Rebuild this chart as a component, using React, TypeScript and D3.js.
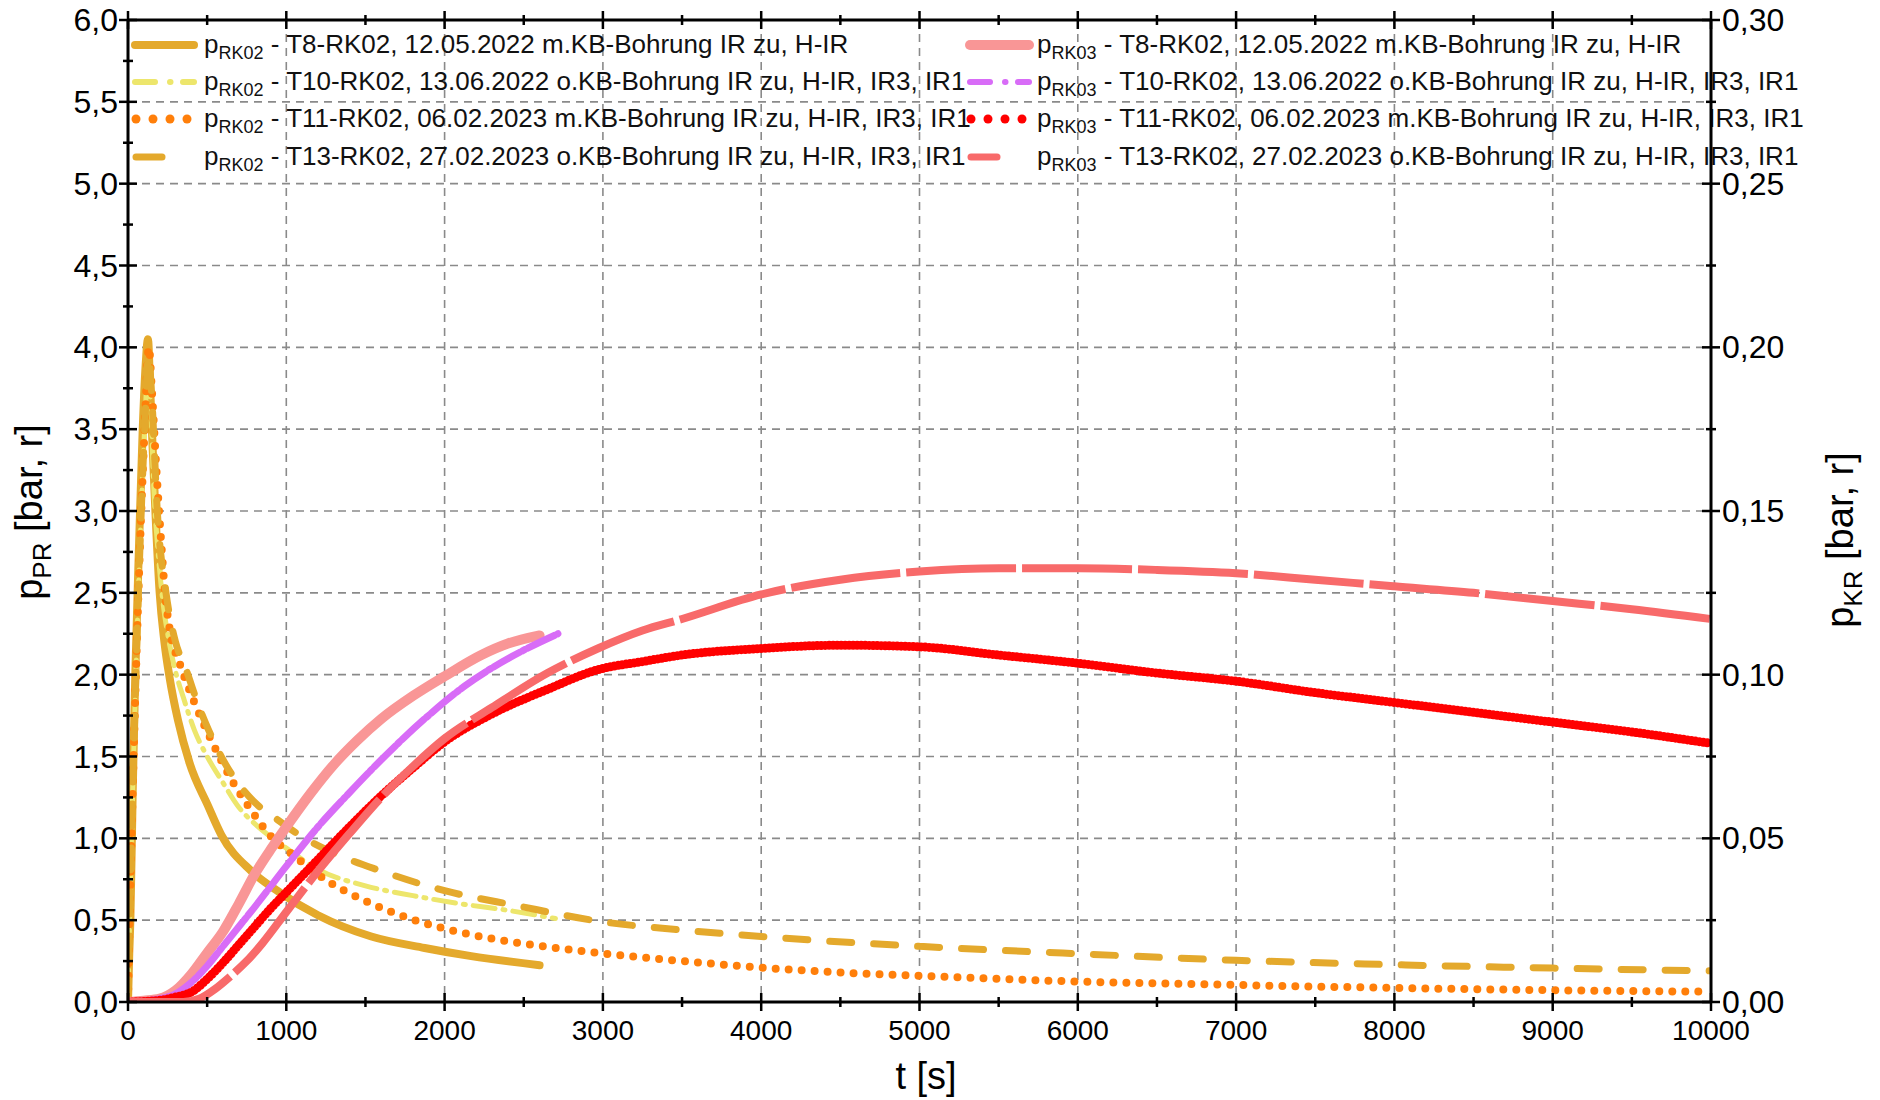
import React from 'react';
import * as d3 from 'd3';

// ---------- data (t in s, left series in bar, right series in bar) ----------
const t8rk02T = [0, 8, 15, 30, 46, 70, 93, 112, 126, 140, 155, 173, 200, 230, 263, 316, 389, 505, 590, 779, 958, 1200, 1537, 1874, 2168, 2600];
const t8rk02V = [0, 0.3, 0.5, 1.3, 2.0, 2.8, 3.5, 3.9, 4.05, 3.75, 3.4, 3.0, 2.5, 2.2, 1.98, 1.72, 1.46, 1.2, 1.02, 0.8, 0.67, 0.53, 0.4, 0.33, 0.28, 0.225];

const t10rk02T = [0, 10, 30, 50, 80, 105, 128, 145, 165, 190, 220, 260, 300, 350, 420, 500, 600, 700, 800, 900, 1000, 1200, 1500, 1800, 2100, 2400, 2700];
const t10rk02V = [0, 0.5, 1.3, 2.0, 2.9, 3.5, 3.9, 3.6, 3.1, 2.75, 2.45, 2.2, 2.02, 1.86, 1.66, 1.5, 1.34, 1.19, 1.09, 1.01, 0.94, 0.81, 0.71, 0.65, 0.6, 0.56, 0.51];

const t11rk02T = [0, 10, 30, 50, 80, 105, 132, 150, 179, 211, 232, 263, 326, 411, 526, 653, 779, 905, 1053, 1242, 1495, 1811, 2126, 2344, 2547, 2968, 3500, 4000, 4500, 5000, 6000, 7000, 8000, 9000, 10000];
const t11rk02V = [0, 0.5, 1.3, 2.0, 2.9, 3.5, 4.0, 3.75, 3.26, 2.79, 2.52, 2.28, 2.07, 1.85, 1.6, 1.36, 1.17, 1.01, 0.89, 0.75, 0.62, 0.5, 0.42, 0.38, 0.35, 0.3, 0.25, 0.21, 0.18, 0.16, 0.125, 0.104, 0.086, 0.072, 0.063];

const t13rk02T = [0, 10, 30, 50, 80, 105, 130, 150, 185, 240, 300, 360, 450, 510, 600, 700, 800, 950, 1100, 1300, 1600, 2000, 2450, 3000, 3500, 4000, 5000, 6000, 7000, 8000, 9000, 10000];
const t13rk02V = [0, 0.5, 1.3, 2.0, 2.9, 3.5, 3.95, 3.7, 3.0, 2.5, 2.2, 2.05, 1.8, 1.66, 1.48, 1.33, 1.22, 1.11, 1.01, 0.91, 0.8, 0.68, 0.59, 0.49, 0.44, 0.4, 0.34, 0.295, 0.255, 0.228, 0.207, 0.19];

const t8rk03T = [0, 100, 200, 300, 400, 500, 600, 700, 800, 900, 1000, 1150, 1300, 1450, 1600, 1800, 2000, 2232, 2400, 2600];
const t8rk03V = [0, 0.0004, 0.001, 0.0035, 0.0085, 0.015, 0.0215, 0.03, 0.039, 0.0465, 0.0535, 0.0635, 0.0725, 0.08, 0.0865, 0.0935, 0.0995, 0.106, 0.1095, 0.112];

const t10rk03T = [0, 200, 300, 400, 500, 600, 700, 800, 1000, 1200, 1400, 1600, 1874, 2126, 2442, 2716];
const t10rk03V = [0, 0.001, 0.0025, 0.006, 0.011, 0.017, 0.023, 0.029, 0.0415, 0.0535, 0.064, 0.074, 0.0865, 0.0965, 0.106, 0.1125];

const t11rk03T = [0, 200, 300, 400, 500, 600, 700, 800, 900, 1000, 1200, 1400, 1600, 1800, 2000, 2300, 2650, 2968, 3250, 3500, 4000, 4500, 5000, 5500, 6000, 6500, 7000, 7500, 8000, 8500, 9000, 9500, 10000];
const t11rk03V = [0, 0.0005, 0.0015, 0.003, 0.007, 0.012, 0.0175, 0.023, 0.0285, 0.0335, 0.0435, 0.0535, 0.063, 0.0715, 0.0795, 0.088, 0.0955, 0.1015, 0.104, 0.106, 0.108, 0.109, 0.1085, 0.106, 0.1035, 0.1005, 0.098, 0.0945, 0.0915, 0.0885, 0.0855, 0.0825, 0.079];

const t13rk03T = [0, 350, 450, 550, 650, 750, 850, 1000, 1200, 1400, 1600, 1800, 2000, 2300, 2650, 2968, 3250, 3500, 4000, 4500, 5000, 5500, 6000, 6500, 7000, 7500, 8000, 8500, 9000, 9500, 10000];
const t13rk03V = [0, 0, 0.001, 0.004, 0.008, 0.0125, 0.018, 0.0275, 0.04, 0.0515, 0.0625, 0.072, 0.0805, 0.09, 0.1005, 0.108, 0.1135, 0.117, 0.1245, 0.129, 0.1315, 0.1325, 0.1325, 0.132, 0.131, 0.129, 0.127, 0.125, 0.1225, 0.12, 0.117];

const xTickValues = [0, 1000, 2000, 3000, 4000, 5000, 6000, 7000, 8000, 9000, 10000];
const leftTickValues = [0, 0.5, 1, 1.5, 2, 2.5, 3, 3.5, 4, 4.5, 5, 5.5, 6];
const rightTickValues = [0, 0.05, 0.1, 0.15, 0.2, 0.25, 0.3];

const legendLeft = [
  { sub: 'RK02', text: ' - T8-RK02, 12.05.2022 m.KB-Bohrung IR zu, H-IR' },
  { sub: 'RK02', text: ' - T10-RK02, 13.06.2022 o.KB-Bohrung IR zu, H-IR, IR3, IR1' },
  { sub: 'RK02', text: ' - T11-RK02, 06.02.2023 m.KB-Bohrung IR zu, H-IR, IR3, IR1' },
  { sub: 'RK02', text: ' - T13-RK02, 27.02.2023 o.KB-Bohrung IR zu, H-IR, IR3, IR1' },
];
const legendRight = [
  { sub: 'RK03', text: ' - T8-RK02, 12.05.2022 m.KB-Bohrung IR zu, H-IR' },
  { sub: 'RK03', text: ' - T10-RK02, 13.06.2022 o.KB-Bohrung IR zu, H-IR, IR3, IR1' },
  { sub: 'RK03', text: ' - T11-RK02, 06.02.2023 m.KB-Bohrung IR zu, H-IR, IR3, IR1' },
  { sub: 'RK03', text: ' - T13-RK02, 27.02.2023 o.KB-Bohrung IR zu, H-IR, IR3, IR1' },
];

// ---------- styles ----------
const GOLD = '#E4A92C';
const YELLOW = '#EDE66C';
const ORANGE = '#FF7F0A';
const PINK = '#F99696';
const VIOLET = '#D86CF7';
const RED = '#FF0000';
const CORAL = '#F86A6A';

type Style = { color: string; width: number; dash?: string; cap?: 'round' | 'butt'; kind: 'solid' | 'dashdot' | 'dot' | 'dash' };

const FONT = '"Liberation Sans", Arial, Helvetica, sans-serif';

const L = 128, R = 1711, T = 20, B = 1002;

export default function App() {
  const x = d3.scaleLinear().domain([0, 10000]).range([L, R]);
  const yL = d3.scaleLinear().domain([0, 6]).range([B, T]);
  const yR = d3.scaleLinear().domain([0, 0.3]).range([B, T]);

  const mk = (ts: number[], vs: number[], y: d3.ScaleLinear<number, number>) => {
    const pts = ts.map((t, i) => [t, vs[i]] as [number, number]);
    return d3.line<[number, number]>().x(d => x(d[0])).y(d => y(d[1])).curve(d3.curveMonotoneX)(pts) || '';
  };

  const series: { d: string; st: Style }[] = [
    { d: mk(t8rk02T, t8rk02V, yL), st: { color: GOLD, width: 8, kind: 'solid', cap: 'round' } },
    { d: mk(t10rk02T, t10rk02V, yL), st: { color: YELLOW, width: 5, dash: '22 8 2 8', kind: 'dashdot', cap: 'round' } },
    { d: mk(t11rk02T, t11rk02V, yL), st: { color: ORANGE, width: 8, dash: '0 13', kind: 'dot', cap: 'round' } },
    { d: mk(t13rk02T, t13rk02V, yL), st: { color: GOLD, width: 7, dash: '22 22', kind: 'dash', cap: 'round' } },
    { d: mk(t8rk03T, t8rk03V, yR), st: { color: PINK, width: 10, kind: 'solid', cap: 'round' } },
    { d: mk(t10rk03T, t10rk03V, yR), st: { color: VIOLET, width: 7, dash: '30 3 3 3', kind: 'dashdot', cap: 'round' } },
    { d: mk(t11rk03T, t11rk03V, yR), st: { color: RED, width: 9, dash: '0 4', kind: 'dot', cap: 'round' } },
    { d: mk(t13rk03T, t13rk03V, yR), st: { color: CORAL, width: 8, dash: '110 6', kind: 'dash', cap: 'butt' } },
  ];

  const xMinor = d3.range(500, 10000, 1000);
  const yMinor = d3.range(0.25, 6, 0.5);
  const fmt1 = (v: number) => d3.format('.1f')(v).replace('.', ',');
  const fmt2 = (v: number) => d3.format('.2f')(v).replace('.', ',');

  const legendStyles = series.map(s => s.st);

  const legendSymbol = (st: Style, x0: number, yc: number, key: string) => {
    if (st.kind === 'solid') {
      return <line key={key} x1={x0 + 3} x2={x0 + 62} y1={yc} y2={yc} stroke={st.color} strokeWidth={st.width} strokeLinecap="round" />;
    }
    if (st.kind === 'dashdot') {
      return (
        <g key={key} stroke={st.color} strokeWidth={6} strokeLinecap="round">
          <line x1={x0 + 3} x2={x0 + 23} y1={yc} y2={yc} />
          <line x1={x0 + 38} x2={x0 + 38.5} y1={yc} y2={yc} />
          <line x1={x0 + 51} x2={x0 + 62} y1={yc} y2={yc} />
        </g>
      );
    }
    if (st.kind === 'dot') {
      return (
        <g key={key} fill={st.color}>
          {[4, 21, 38, 55].map(dx => <circle key={dx} cx={x0 + dx} cy={yc} r={4.5} />)}
        </g>
      );
    }
    return <line key={key} x1={x0 + 4} x2={x0 + 30} y1={yc} y2={yc} stroke={st.color} strokeWidth={7} strokeLinecap="round" />;
  };

  const rowsY = [45, 82, 119, 157];

  const legendText = (e: { sub: string; text: string }, x0: number, yc: number) => (
    <text x={x0} y={yc + 8} fontSize={26} fill="#111">
      <tspan>p</tspan><tspan fontSize={18} dy={6}>{e.sub}</tspan><tspan dy={-6}>{e.text}</tspan>
    </text>
  );

  return (
    <svg width={1880} height={1100} style={{ position: 'absolute', left: 0, top: 0, background: '#fff' }} fontFamily={FONT}>
      <defs>
        <clipPath id="plotclip"><rect x={L} y={T} width={R - L} height={B - T} /></clipPath>
      </defs>
      <rect x={0} y={0} width={1880} height={1100} fill="#fff" />
      {/* grid */}
      <g stroke="#8a8a8a" strokeWidth={1.6} strokeDasharray="8 6">
        {xTickValues.slice(1, -1).map(v => <line key={'gx' + v} x1={x(v)} x2={x(v)} y1={T} y2={B} />)}
        {leftTickValues.slice(1, -1).map(v => <line key={'gy' + v} x1={L} x2={R} y1={yL(v)} y2={yL(v)} />)}
      </g>
      {/* legend */}
      {legendLeft.map((e, i) => (
        <g key={'ll' + i}>
          {legendSymbol(legendStyles[i], 132, rowsY[i], 'ls' + i)}
          {legendText(e, 204, rowsY[i])}
        </g>
      ))}
      {legendRight.map((e, i) => (
        <g key={'lr' + i}>
          {legendSymbol(legendStyles[i + 4], 967, rowsY[i], 'rs' + i)}
          {legendText(e, 1037, rowsY[i])}
        </g>
      ))}
      {/* series */}
      <g clipPath="url(#plotclip)" fill="none" strokeLinejoin="round">
        {series.map((s, i) => (
          <path key={'s' + i} d={s.d} stroke={s.st.color} strokeWidth={s.st.width} strokeDasharray={s.st.dash} strokeLinecap={s.st.cap || 'round'} />
        ))}
      </g>
      {/* axes frame */}
      <g stroke="#000" strokeWidth={3} fill="none">
        <line x1={L} x2={R} y1={B} y2={B} />
        <line x1={L} x2={R} y1={T} y2={T} />
        <line x1={L} x2={L} y1={T} y2={B} />
        <line x1={R} x2={R} y1={T} y2={B} />
      </g>
      <g stroke="#000" strokeWidth={2.5}>
        {xTickValues.map(v => (
          <g key={'xt' + v}>
            <line x1={x(v)} x2={x(v)} y1={B - 9} y2={B + 9} />
            <line x1={x(v)} x2={x(v)} y1={T - 9} y2={T + 9} />
          </g>
        ))}
        {xMinor.map(v => (
          <g key={'xm' + v}>
            <line x1={x(v)} x2={x(v)} y1={B - 5} y2={B + 5} />
            <line x1={x(v)} x2={x(v)} y1={T - 5} y2={T + 5} />
          </g>
        ))}
        {leftTickValues.map(v => <line key={'ylt' + v} x1={L - 9} x2={L + 9} y1={yL(v)} y2={yL(v)} />)}
        {yMinor.map(v => <line key={'ylm' + v} x1={L - 5} x2={L + 5} y1={yL(v)} y2={yL(v)} />)}
        {rightTickValues.map(v => <line key={'yrt' + v} x1={R - 9} x2={R + 9} y1={yR(v)} y2={yR(v)} />)}
        {rightTickValues.slice(0, -1).map(v => <line key={'yrm' + v} x1={R - 5} x2={R + 5} y1={yR(v + 0.025)} y2={yR(v + 0.025)} />)}
      </g>
      {/* tick labels */}
      <g fontSize={28} fill="#000" textAnchor="middle">
        {xTickValues.map(v => <text key={'xl' + v} x={x(v)} y={1040}>{v}</text>)}
      </g>
      <g fontSize={32} fill="#000" textAnchor="end">
        {leftTickValues.map(v => <text key={'yl' + v} x={118} y={yL(v) + 11}>{fmt1(v)}</text>)}
      </g>
      <g fontSize={32} fill="#000" textAnchor="start">
        {rightTickValues.map(v => <text key={'yr' + v} x={1722} y={yR(v) + 11}>{fmt2(v)}</text>)}
      </g>
      {/* axis titles */}
      <text x={926} y={1089} fontSize={38} textAnchor="middle" fill="#000">t [s]</text>
      <text transform={`translate(42,512) rotate(-90)`} fontSize={38} textAnchor="middle" fill="#000">
        <tspan>p</tspan><tspan fontSize={26} dy={9}>PR</tspan><tspan dy={-9}> [bar, r]</tspan>
      </text>
      <text transform={`translate(1853,540) rotate(-90)`} fontSize={38} textAnchor="middle" fill="#000">
        <tspan>p</tspan><tspan fontSize={26} dy={9}>KR</tspan><tspan dy={-9}> [bar, r]</tspan>
      </text>
    </svg>
  );
}
